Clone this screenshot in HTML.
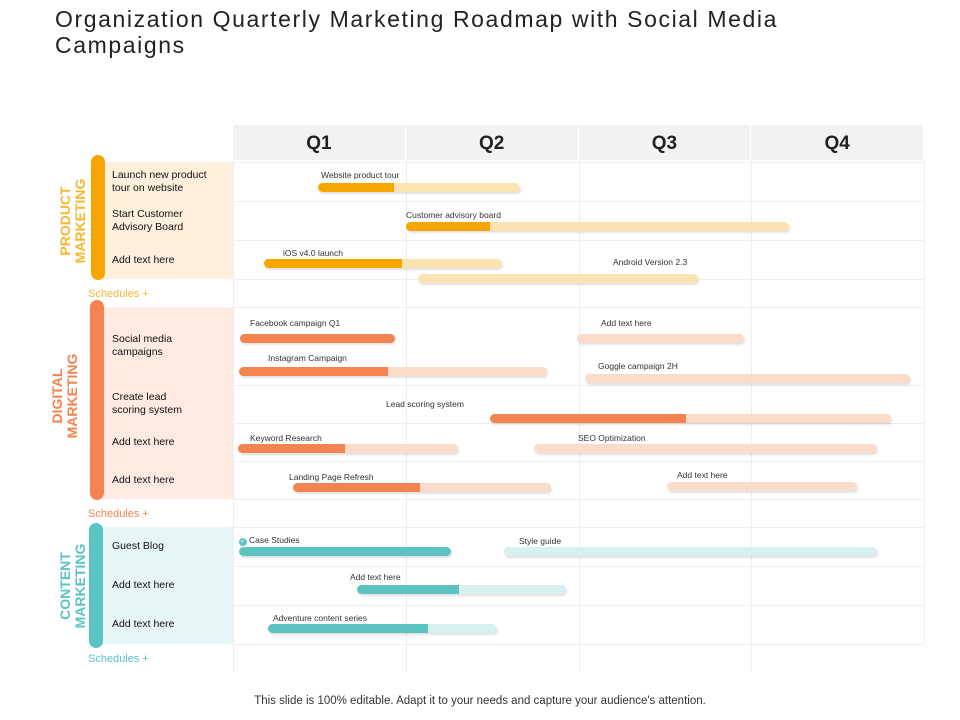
<!DOCTYPE html>
<html><head><meta charset="utf-8"><style>
body{margin:0;width:960px;height:720px;background:#fff;font-family:"Liberation Sans",sans-serif;position:relative;overflow:hidden}
.abs{position:absolute}
.title{left:55px;top:6px;font-size:23px;letter-spacing:1.6px;color:#222;line-height:26px;width:800px}
.hdr{top:125px;height:35px;background:#f2f2f2;font-weight:bold;font-size:19px;color:#222;text-align:center;line-height:37px;border-right:1px solid #fff}
.rowlabel{font-size:10.5px;color:#111;line-height:13px;left:112px}
.vl{border-left:1px solid #eee}
.hl{height:1px;background:#eee;left:233px;width:691px}
.sched{font-size:11px;left:88px}
.cat{font-weight:bold;font-size:14px;line-height:15px;text-align:center;transform:rotate(-90deg);transform-origin:center;width:120px}
.lbl{font-size:8.5px;color:#333;white-space:nowrap}
.bar{height:9px;border-radius:5px;box-shadow:1px 2px 2px rgba(0,0,0,.12);overflow:hidden}
</style></head><body>
<div class="abs title">Organization Quarterly Marketing Roadmap with Social Media<br>Campaigns</div>

<div class="abs" style="left:103px;top:162px;width:130px;height:117px;background:#fef0dc"></div>
<div class="abs" style="left:103px;top:307px;width:130px;height:192px;background:#fdebe2"></div>
<div class="abs" style="left:103px;top:527px;width:130px;height:117px;background:#e6f5f5"></div>
<div class="abs" style="left:91px;top:155px;width:14px;height:125px;border-radius:7px;background:#f7a600"></div>
<div class="abs" style="left:90px;top:300px;width:14px;height:200px;border-radius:7px;background:#f5834f"></div>
<div class="abs" style="left:89px;top:523px;width:14px;height:125px;border-radius:7px;background:#5bc3c1"></div>
<div class="abs cat" style="left:13px;top:206px;color:#f7b731">PRODUCT<br>MARKETING</div>
<div class="abs cat" style="left:5px;top:381px;color:#f5834f">DIGITAL<br>MARKETING</div>
<div class="abs cat" style="left:13px;top:571px;color:#5bc3c1">CONTENT<br>MARKETING</div>

<div class="abs rowlabel" style="top:169px">Launch new product<br>tour on website</div>
<div class="abs rowlabel" style="top:208px">Start Customer<br>Advisory Board</div>
<div class="abs rowlabel" style="top:254px">Add text here</div>
<div class="abs rowlabel" style="top:333px">Social media<br>campaigns</div>
<div class="abs rowlabel" style="top:391px">Create lead<br>scoring system</div>
<div class="abs rowlabel" style="top:436px">Add text here</div>
<div class="abs rowlabel" style="top:474px">Add text here</div>
<div class="abs rowlabel" style="top:540px">Guest Blog</div>
<div class="abs rowlabel" style="top:579px">Add text here</div>
<div class="abs rowlabel" style="top:618px">Add text here</div>

<div class="abs sched" style="top:288px;color:#f7b731">Schedules +</div>
<div class="abs sched" style="top:508px;color:#f5834f">Schedules +</div>
<div class="abs sched" style="top:653px;color:#5bc3c1">Schedules +</div>

<div id="grid"></div>
<div class="abs" style="left:0;top:695px;width:960px;text-align:center;font-size:11.5px;color:#333">This slide is 100% editable. Adapt it to your needs and capture your audience's attention.</div>

<script>
const quarters=["Q1","Q2","Q3","Q4"];
const hLines=[162,201,240,279,307,385,423,461,499,527,566,605,644];
const names=["Website product tour","Customer advisory board","iOS v4.0 launch","Android Version 2.3","Facebook campaign Q1","Add text here","Instagram Campaign","Goggle campaign 2H","Lead scoring system","Keyword Research","SEO Optimization","Landing Page Refresh","Add text here","Case Studies","Style guide","Add text here","Adventure content series"];
const groups=[0,0,0,0,1,1,1,1,1,1,1,1,1,2,2,2,2];
const starts=[0.49,1.0,0.18,1.07,0.04,1.99,0.035,2.04,1.49,0.03,1.74,0.35,2.51,0.035,1.57,0.72,0.2];
const ends=[1.66,3.22,1.56,2.69,0.94,2.96,1.82,3.92,3.81,1.30,3.73,1.84,3.61,1.26,3.73,1.93,1.53];
const progress=[0.93,1.49,0.98,1.07,0.94,1.99,0.9,2.04,2.62,0.65,1.74,1.08,2.51,1.26,1.57,1.31,1.13];
const barY=[187,226,263,278,338,338,371,378,418,448,448,487,486,551,551,589,628];
const labelX=[321,406,283,613,250,601,268,598,386,250,578,289,677,249,519,350,273];
const labelY=[170,210,248,257,318,318,353,361,399,433,433,472,470,535,536,572,613];
const dark=["#f7a600","#f5834f","#5bc3c1"],light=["#fde3b2","#fbdccb","#d8f0f0"];
const X0=233,QW=691/4;
const x=q=>X0+q*QW;
const g=document.getElementById('grid');
function mk(cls,st){const d=document.createElement('div');d.className='abs '+cls;d.style.cssText=st;g.appendChild(d);return d;}
quarters.forEach((q,i)=>{
 const h=mk('hdr',`left:${x(i)}px;width:${QW-1}px`);h.textContent=q;
 
 
 const v=mk('vl',`left:${x(i)}px;top:160px;height:512px;width:0`);
 
 
});
const ve=mk('vl',`left:${x(4)}px;top:160px;height:484px;width:0`);


hLines.forEach(y=>{const l=mk('hl',`top:${y}px`);
 
 });
names.forEach((n,i)=>{
 const k=groups[i];
 const lb=mk('lbl',`left:${labelX[i]}px;top:${labelY[i]}px`);
 lb.textContent=n;
 
 
 if(i===13){lb.innerHTML='<span style="display:inline-block;width:8px;height:8px;border-radius:50%;background:#5bc3c1;color:#fff;font-size:7px;line-height:8px;text-align:center;margin-right:2px">✓</span>'+n;lb.style.left=(labelX[i]-10)+'px';}
 const xs=x(starts[i]),xe=x(ends[i]),xp=x(progress[i]);
 const b=mk('bar',`left:${xs}px;top:${barY[i]-4}px;width:${xe-xs}px;background:${light[k]}`);
 
 
 const p=document.createElement('div');
 p.style.cssText=`height:100%;width:${xp-xs}px;background:${dark[k]}`;
 
 
 b.appendChild(p);
});
</script>
</body></html>
